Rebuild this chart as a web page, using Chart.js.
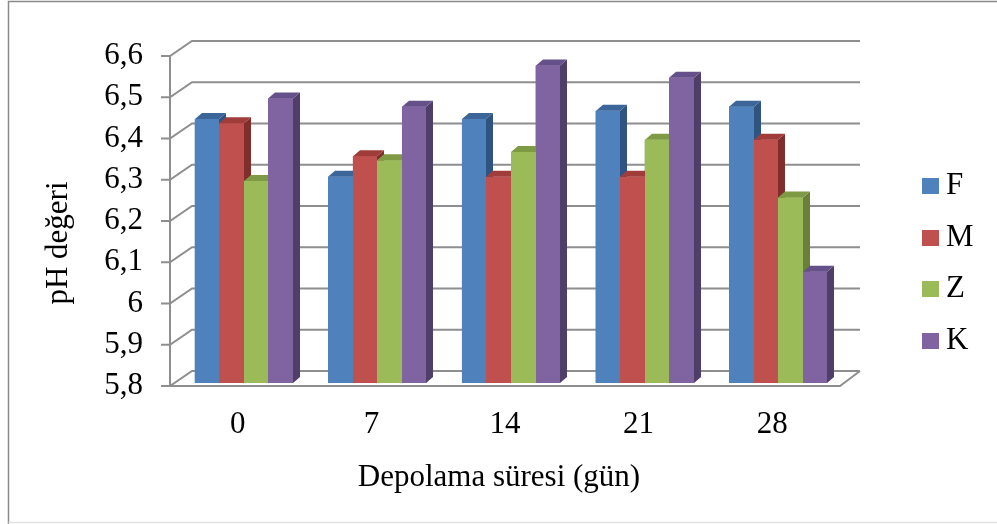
<!DOCTYPE html>
<html>
<head>
<meta charset="utf-8">
<script src="https://cdn.jsdelivr.net/npm/chart.js@4.4.0/dist/chart.umd.min.js"></script>
<style>
  html, body { margin: 0; padding: 0; background: #fff; }
</style>
</head>
<body>
<canvas id="myChart" width="997" height="524"></canvas>
<script>
const categories = ["0", "7", "14", "21", "28"];
const seriesNames = ["F", "M", "Z", "K"];
const valuesF = [6.44, 6.30, 6.44, 6.46, 6.47];
const valuesM = [6.43, 6.35, 6.30, 6.30, 6.39];
const valuesZ = [6.29, 6.34, 6.36, 6.39, 6.25];
const valuesK = [6.49, 6.47, 6.57, 6.54, 6.07];
const yTickLabels = ["5,8", "5,9", "6", "6,1", "6,2", "6,3", "6,4", "6,5", "6,6"];
const yMin = 5.8;
const yMax = 6.6;
const yStep = 0.1;
const xTitle = "Depolama süresi (gün)";
const yTitle = "pH değeri";

const frontColors = ["#4f81bd", "#c0504d", "#9bbb59", "#8064a2"];
const topColors = ["#3c6699", "#a03d3a", "#7e9a45", "#66508a"];
const sideColors = ["#2f5481", "#7f2e2c", "#6a7f3a", "#4f3e68"];

const FONT = "'Liberation Serif', 'Times New Roman', serif";
Chart.defaults.font.family = FONT;
Chart.defaults.color = "#000";

// perspective offsets, in pixels
const FRONT_X = 170;
const WALL_DX = 22;
const BACK_RIGHT = 860;
const FLOOR_RIGHT = 840;
const BAR_DX = 7;
const BAR_DY = 6;

const threeD = {
  id: "threeD",
  beforeDraw(chart) {
    const c = chart.ctx;
    c.save();
    c.fillStyle = "#fff";
    c.fillRect(0, 0, chart.width, chart.height);
    c.strokeStyle = "#8a8a8a";
    c.lineWidth = 1.5;
    c.beginPath();
    c.moveTo(8.5, 524);
    c.lineTo(8.5, 1.5);
    c.lineTo(997, 1.5);
    c.stroke();
    c.strokeStyle = "#e2e2e2";
    c.beginPath();
    c.moveTo(8.5, 522.5);
    c.lineTo(997, 522.5);
    c.stroke();
    c.restore();
  },
  beforeDatasetsDraw(chart) {
    const c = chart.ctx;
    const y = chart.scales.y;
    c.save();
    c.strokeStyle = "#8e8e8e";
    c.lineWidth = 2;
    y.ticks.forEach(t => {
      const p = y.getPixelForValue(t.value);
      const fy = p + 3;
      const by = p - 12;
      c.beginPath();
      c.moveTo(FRONT_X - 9, fy);
      c.lineTo(FRONT_X, fy);
      c.lineTo(FRONT_X + WALL_DX, by);
      c.lineTo(BACK_RIGHT, by);
      c.stroke();
    });
    const top = y.getPixelForValue(yMax) + 3;
    const bot = y.getPixelForValue(yMin) + 3;
    c.beginPath();
    c.moveTo(FRONT_X, top);
    c.lineTo(FRONT_X, bot);
    c.lineTo(FLOOR_RIGHT, bot);
    c.lineTo(BACK_RIGHT, bot - 15);
    c.stroke();
    c.restore();
  },
  afterDatasetsDraw(chart) {
    // redraw bars left to right so each side face hides behind the next bar
    const c = chart.ctx;
    const floor = chart.chartArea.bottom;
    c.save();
    chart.data.datasets.forEach((ds, i) => {
      const meta = chart.getDatasetMeta(i);
      meta.data.forEach(bar => {
        const { x, y, base, width } = bar.getProps(["x", "y", "base", "width"], true);
        const b = Math.min(base, floor);
        const x1 = Math.round(x - width / 2);
        const x2 = Math.round(x + width / 2);
        c.fillStyle = frontColors[i];
        c.fillRect(x1, y, x2 - x1, b - y);
        c.fillStyle = sideColors[i];
        c.beginPath();
        c.moveTo(x2, y);
        c.lineTo(x2 + BAR_DX, y - BAR_DY);
        c.lineTo(x2 + BAR_DX, b - BAR_DY);
        c.lineTo(x2, b);
        c.closePath();
        c.fill();
        c.fillStyle = topColors[i];
        c.beginPath();
        c.moveTo(x1, y);
        c.lineTo(x1 + BAR_DX, y - BAR_DY);
        c.lineTo(x2 + BAR_DX, y - BAR_DY);
        c.lineTo(x2, y);
        c.closePath();
        c.fill();
      });
    });
    c.restore();
  },
  afterDraw(chart) {
    const c = chart.ctx;
    c.save();
    c.fillStyle = "#000";
    c.font = "31px " + FONT;
    // axis titles
    c.textAlign = "center";
    c.textBaseline = "alphabetic";
    c.fillText(xTitle, 499, 486);
    c.translate(59, 243);
    c.rotate(-Math.PI / 2);
    c.textBaseline = "middle";
    c.fillText(yTitle, 0, 0);
    c.setTransform(1, 0, 0, 1, 0, 0);
    // legend
    c.textAlign = "left";
    c.textBaseline = "middle";
    chart.data.datasets.forEach((ds, i) => {
      const cy = 186 + i * 51.5;
      c.fillStyle = ds.backgroundColor;
      c.fillRect(922, Math.round(cy - 8), 17, 16);
      c.fillStyle = "#000";
      c.fillText(ds.label, 946, cy);
    });
    c.restore();
  }
};

const ctx = document.getElementById("myChart");

const chart = new Chart(ctx, {
  type: "bar",
  data: {
    labels: categories,
    datasets: [
      { label: seriesNames[0], data: valuesF, backgroundColor: frontColors[0] },
      { label: seriesNames[1], data: valuesM, backgroundColor: frontColors[1] },
      { label: seriesNames[2], data: valuesZ, backgroundColor: frontColors[2] },
      { label: seriesNames[3], data: valuesK, backgroundColor: frontColors[3] },
    ],
  },
  options: {
    responsive: false,
    animation: false,
    datasets: {
      bar: { barPercentage: 1, categoryPercentage: 0.735, borderWidth: 0 },
    },
    layout: { padding: { top: 53, right: 152, left: 0, bottom: 0 } },
    plugins: {
      legend: { display: false },
      tooltip: { enabled: false },
    },
    scales: {
      x: {
        grid: { display: false, drawTicks: false },
        border: { display: false },
        ticks: { font: { size: 31 }, padding: 23, labelOffset: -6, maxRotation: 0 },
        afterFit(s) { s.height = 141; },
      },
      y: {
        min: yMin,
        max: yMax,
        grid: { display: false, drawTicks: false },
        border: { display: false },
        ticks: {
          stepSize: yStep,
          font: { size: 31 },
          padding: 34,
          labelOffset: 3,
          callback: v => yTickLabels[Math.round((v - yMin) / yStep)],
        },
        afterFit(s) { s.width = 177; },
      },
    },
  },
  plugins: [threeD],
});
</script>
</body>
</html>
